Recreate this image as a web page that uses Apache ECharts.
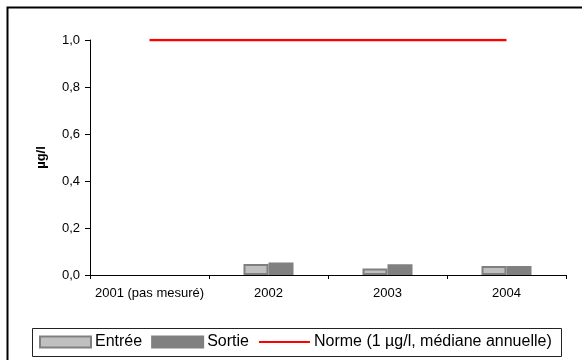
<!DOCTYPE html>
<html>
<head>
<meta charset="utf-8">
<script src="https://cdn.jsdelivr.net/npm/echarts@6/dist/echarts.min.js"></script>
<style>
html,body{margin:0;padding:0;background:#fff;}
#c{width:582px;height:360px;}
</style>
</head>
<body>
<div id="c"></div>
<script>
const categories = ['2001 (pas mesuré)', '2002', '2003', '2004'];
const entree = [null, 0.047, 0.028, 0.038];
const sortie = [null, 0.053, 0.046, 0.038];
const norme = [1, 1, 1, 1];
const seriesNames = ['Entrée', 'Sortie', 'Norme (1 µg/l, médiane annuelle)'];
const yTicks = [0, 0.2, 0.4, 0.6, 0.8, 1.0];

const FONT = '"Liberation Sans", Arial, sans-serif';
const chart = echarts.init(document.getElementById('c'), null, {renderer: 'canvas'});
chart.setOption({
  animation: false,
  backgroundColor: '#fff',
  textStyle: {fontFamily: FONT, color: '#000'},
  graphic: [
    {type: 'rect', shape: {x: 7.5, y: 7.5, width: 590, height: 370}, style: {fill: null, stroke: '#000', lineWidth: 2}, silent: true},
    {type: 'rect', shape: {x: 32.5, y: 328.5, width: 529, height: 28}, style: {fill: null, stroke: '#222', lineWidth: 1}, silent: true}
  ],
  grid: {left: 90, right: 16, top: 40, bottom: 85, containLabel: false},
  legend: {
    left: 39, top: 334, padding: 0, itemGap: 9,
    itemWidth: 51, itemHeight: 11,
    textStyle: {fontFamily: FONT, fontSize: 16, color: '#000', padding: [0, 0, 0, -1]},
    data: [
      {name: seriesNames[0], icon: 'rect'},
      {name: seriesNames[1], icon: 'rect'},
      {name: seriesNames[2], itemStyle: {opacity: 0}}
    ]
  },
  xAxis: {
    type: 'category', data: categories, boundaryGap: true,
    axisLine: {lineStyle: {color: '#000', width: 1}},
    axisTick: {show: true, length: 4, lineStyle: {color: '#000'}},
    axisLabel: {fontFamily: FONT, fontSize: 13, color: '#000', margin: 12, interval: 0},
    splitLine: {show: false}
  },
  yAxis: {
    type: 'value', min: yTicks[0], max: yTicks[yTicks.length - 1], interval: 0.2,
    name: 'µg/l', nameLocation: 'middle', nameRotate: 90, nameGap: 42,
    nameTextStyle: {fontFamily: FONT, fontSize: 13, fontWeight: 'bold', color: '#000'},
    axisLine: {show: true, lineStyle: {color: '#000', width: 1}},
    axisTick: {show: true, length: 5, lineStyle: {color: '#000'}},
    axisLabel: {fontFamily: FONT, fontSize: 13, color: '#000', margin: 10,
      formatter: v => v.toFixed(1).replace('.', ',')},
    splitLine: {show: false}
  },
  series: [
    {name: seriesNames[0], type: 'bar', data: entree, barWidth: 25, barGap: '0%',
      itemStyle: {color: '#c0c0c0', borderColor: '#808080', borderWidth: 2}},
    {name: seriesNames[1], type: 'bar', data: sortie, barWidth: 25, barGap: '0%',
      itemStyle: {color: '#808080', borderColor: '#808080', borderWidth: 2}},
    {name: seriesNames[2], type: 'line', data: norme, symbol: 'none', showSymbol: false,
      lineStyle: {color: '#ff0000', width: 2.5}, itemStyle: {color: '#ff0000'}}
  ]
});
</script>
</body>
</html>
